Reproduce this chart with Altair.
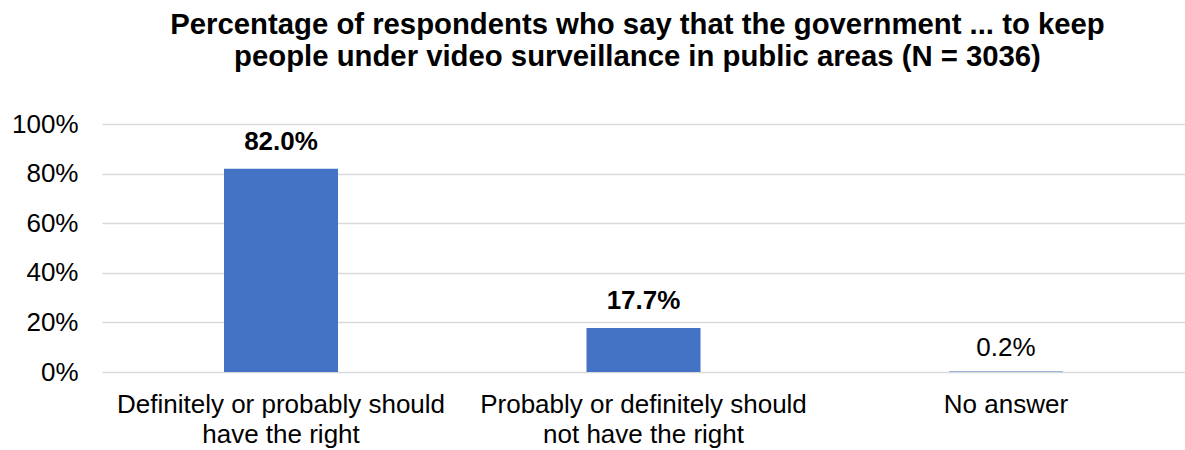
import altair as alt
import pandas as pd

keys = ["A", "B", "C"]
category_lines = [
    ["Definitely or probably should", "have the right"],
    ["Probably or definitely should", "not have the right"],
    ["No answer"],
]
values = [82.0, 17.7, 0.2]
labels = ["82.0%", "17.7%", "0.2%"]
bold = [True, True, False]

df = pd.DataFrame({"key": keys, "value": values, "label": labels, "bold": bold})

label_expr = (
    "datum.value == 'A' ? ['Definitely or probably should', 'have the right'] : "
    "datum.value == 'B' ? ['Probably or definitely should', 'not have the right'] : 'No answer'"
)

FONT = "Liberation Sans"

x = alt.X(
    "key:N",
    sort=keys,
    title=None,
    scale=alt.Scale(paddingInner=0.6855, paddingOuter=0.3366),
    axis=alt.Axis(
        labelExpr=label_expr,
        labelAngle=0,
        labelFontSize=26,
        labelFont=FONT,
        labelColor="#000000",
        labelPadding=19,
        labelLineHeight=30,
        labelLimit=500,
        ticks=False,
        domain=False,
        grid=False,
        labelBaseline="top",
    ),
)

bars = alt.Chart(df).mark_bar(color="#4472C4").encode(
    x=x,
    y=alt.Y(
        "value:Q",
        title=None,
        scale=alt.Scale(domain=[0, 100]),
        axis=alt.Axis(
            values=[0, 20, 40, 60, 80, 100],
            labelExpr="datum.value + '%'",
            labelFontSize=26,
            labelFont=FONT,
            labelColor="#000000",
            labelPadding=24,
            ticks=False,
            domain=False,
            gridColor="#D9D9D9",
            gridWidth=1.5,
        ),
    ),
)

text_bold = alt.Chart(df).transform_filter("datum.bold").mark_text(
    fontSize=26, font=FONT, fontWeight="bold", baseline="middle", dy=-27, color="#000000"
).encode(x=alt.X("key:N", sort=keys), y="value:Q", text="label:N")

text_norm = alt.Chart(df).transform_filter("!datum.bold").mark_text(
    fontSize=26, font=FONT, fontWeight="normal", baseline="middle", dy=-24, color="#000000"
).encode(x=alt.X("key:N", sort=keys), y="value:Q", text="label:N")

chart = alt.layer(bars, text_bold, text_norm).properties(
    width=1083,
    height=248,
    title=alt.TitleParams(
        text=[
            "Percentage of respondents who say that the government ... to keep",
            "people under video surveillance in public areas (N = 3036)",
        ],
        fontSize=29.3,
        font=FONT,
        fontWeight="bold",
        color="#000000",
        lineHeight=32,
        anchor="middle",
        offset=39,
        dx=-6,
    ),
    autosize=alt.AutoSizeParams(type="none"),
    padding={"left": 102, "top": 124, "right": 0, "bottom": 78},
).configure_view(stroke=None)

chart.save("out.html", embed_options={"renderer": "svg", "actions": False})
